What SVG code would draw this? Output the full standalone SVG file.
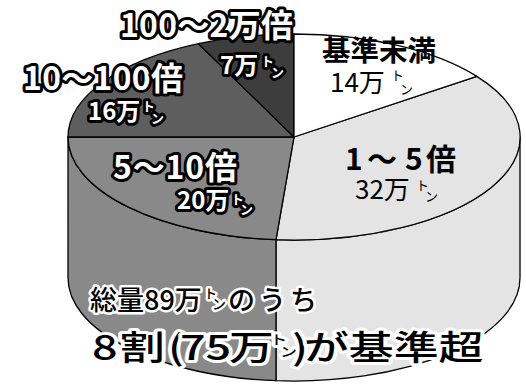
<svg xmlns="http://www.w3.org/2000/svg" width="526" height="386" viewBox="0 0 526 386">
<style>
.edge{stroke:#000;stroke-width:1.3;stroke-linejoin:round}
.s1{fill:#3d3d3d}
.s2{fill:#5e5e5e}
.s3{fill:#898989}
.s4{fill:#e4e4e4}
.s5{fill:#ffffff}
text{font-family:"Noto Sans CJK JP","Noto Sans CJK SC",sans-serif}
.ow{fill:#fff;stroke:#000;stroke-width:6;paint-order:stroke;stroke-linejoin:round;font-weight:700}
.bh{fill:#000;stroke:#fff;stroke-width:5;paint-order:stroke;stroke-linejoin:round;font-weight:500}
.bk{fill:#000;font-weight:700}
.rg{fill:#000;font-weight:400}
</style>
<rect width="526" height="386" fill="#fff"/>

<g id="slice-1to5">
  <path class="s4 edge" d="M520,137 A226,103 0 0 1 276,239.7 L276,380.7 A226,103 0 0 0 520,278 Z"/>
  <path class="s4 edge" d="M294,137 L476.8,76.4 A226,103 0 0 1 276,239.7 Z"/>
</g>
<g id="slice-5to10">
  <path class="s3 edge" d="M276,239.7 A226,103 0 0 1 68,137 L68,278 A226,103 0 0 0 276,380.7 Z"/>
  <path class="s3 edge" d="M294,137 L276,239.7 A226,103 0 0 1 68,137 Z"/>
</g>
<g id="slice-10to100">
  <path class="s2 edge" d="M294,137 L68,137 A226,103 0 0 1 198.5,43.7 Z"/>
</g>
<g id="slice-100to20000">
  <path class="s1 edge" d="M294,137 L198.5,43.7 A226,103 0 0 1 294,34 Z"/>
</g>
<g id="slice-below">
  <path class="s5 edge" d="M294,137 L294,34 A226,103 0 0 1 476.8,76.4 Z"/>
</g>

<g id="labels">
  <text class="ow" x="120" y="37" font-size="32" textLength="173">100～2万倍</text>
  <text class="ow" font-size="24"><tspan x="220" y="74">7万</tspan><tspan x="261" y="66" font-size="13">ト</tspan><tspan x="271" y="77" font-size="13">ン</tspan></text>

  <text class="ow" x="23" y="90" font-size="32" textLength="160">10～100倍</text>
  <text class="ow" font-size="24"><tspan x="88" y="120">16万</tspan><tspan x="142" y="111" font-size="13">ト</tspan><tspan x="151" y="123" font-size="13">ン</tspan></text>

  <text class="ow" x="113" y="179" font-size="32" textLength="124">5～10倍</text>
  <text class="ow" font-size="24"><tspan x="177" y="209">20万</tspan><tspan x="231" y="204" font-size="13">ト</tspan><tspan x="240" y="214" font-size="13">ン</tspan></text>

  <text class="bk" x="322" y="61" font-size="28.5">基準未満</text>
  <text class="rg" font-size="26"><tspan x="330" y="92">14万</tspan><tspan x="391" y="80" font-size="13">ト</tspan><tspan x="400" y="94" font-size="13">ン</tspan></text>

  <text class="bk" x="345 367 405 426" y="170" font-size="30">1～5倍</text>
  <text class="rg" font-size="26"><tspan x="355" y="199">32万</tspan><tspan x="416" y="190" font-size="13">ト</tspan><tspan x="425" y="201" font-size="13">ン</tspan></text>

  <text class="bh" font-size="27"><tspan x="90" y="310">総量89万</tspan><tspan x="204" y="298" font-size="13">ト</tspan><tspan x="212" y="309" font-size="14">ン</tspan><tspan x="228 259 290" y="310">のうち</tspan></text>

  <text class="bh" font-size="34" font-weight="700" transform="scale(1.32,1)" style="stroke-width:6"><tspan x="69.7" y="360">8</tspan><tspan x="90.9" y="360">割</tspan><tspan x="127.3" y="360">(</tspan><tspan x="136.4" y="360">75</tspan><tspan x="173.5" y="360">万</tspan><tspan x="204.5" y="344" font-size="13">ト</tspan><tspan x="212.1" y="356" font-size="13">ン</tspan><tspan x="221.2" y="360">)</tspan><tspan x="230.3" y="360">が基準超</tspan></text>
</g>
</svg>
